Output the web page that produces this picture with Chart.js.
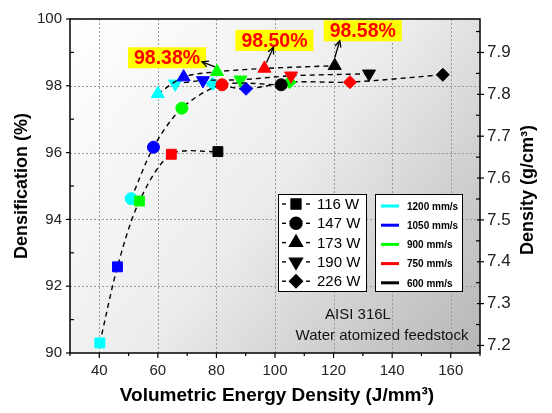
<!DOCTYPE html>
<html>
<head>
<meta charset="utf-8">
<script src="https://cdn.jsdelivr.net/npm/chart.js@4.4.1/dist/chart.umd.min.js"></script>
<style>
  body { margin: 0; background: #fff; }
  #wrap { width: 552px; height: 413px; }
</style>
</head>
<body>
<div id="wrap"><canvas id="densChart" width="552" height="413"></canvas></div>
<script>
// scan speeds (colour) and laser powers (marker shape)
var speeds = ['1200 mm/s', '1050 mm/s', '900 mm/s', '750 mm/s', '600 mm/s'];
var speedColors = ['#00ffff', '#0000ff', '#00ff00', '#ff0000', '#000000'];
var powers = ['116 W', '147 W', '173 W', '190 W', '226 W'];
var shapes = ['rect', 'circle', 'triangle', 'triangle', 'rectRot'];
var rotations = [0, 0, 0, 180, 0];

// energy density (J/mm3) per power, ordered by speed 1200 -> 600 mm/s
var ved116 = [40.2, 46.2, 53.7, 64.6, 80.5];
var ved147 = [50.9, 58.5, 68.2, 81.9, 102.1];
var ved173 = [60.0, 68.8, 80.2, 96.4, 120.4];
var ved190 = [65.9, 75.4, 88.2, 105.5, 132.1];
var ved226 = [78.7, 90.1, 105.0, 125.6, 157.3];

// densification (%)
var dens116 = [90.3, 92.58, 94.55, 95.95, 96.03];
var dens147 = [94.62, 96.16, 97.33, 98.03, 98.03];
var dens173 = [97.76, 98.26, 98.42, 98.52, 98.6];
var dens190 = [98.06, 98.16, 98.18, 98.3, 98.36];
var dens226 = [98.06, 97.91, 98.11, 98.11, 98.33];

var xTicks = [40, 60, 80, 100, 120, 140, 160];
var yTicks = [90, 92, 94, 96, 98, 100];
var y2Ticks = [7.2, 7.3, 7.4, 7.5, 7.6, 7.7, 7.8, 7.9];

// highlighted maxima: dataset index, point index, label
var notes = [
  { ds: 2, i: 2, text: '98.38%' },
  { ds: 2, i: 3, text: '98.50%' },
  { ds: 2, i: 4, text: '98.58%' }
];
// label box / arrow offsets from the point (px)
var noteStyle = [
  { dx: -50, dy: -14, tail: [-2, -5], head: [-15, -10] },
  { dx: 10, dy: -28, tail: [2, -6], head: [9, -21] },
  { dx: 28, dy: -35, tail: [0, -8], head: [5, -25] }
];

var vedAll = [ved116, ved147, ved173, ved190, ved226];
var densAll = [dens116, dens147, dens173, dens190, dens226];
var radii = [7, 6, 7.5, 7.5, 6.5];

var datasets = powers.map(function (p, k) {
  return {
    label: p,
    data: vedAll[k].map(function (v, j) { return { x: v, y: densAll[k][j] }; }),
    showLine: true,
    borderColor: '#000',
    borderWidth: 1.4,
    borderDash: [5, 4],
    tension: 0.3,
    pointStyle: shapes[k],
    pointRotation: rotations[k],
    pointRadius: radii[k],
    pointHoverRadius: radii[k],
    pointBackgroundColor: speedColors,
    pointBorderColor: speedColors,
    pointBorderWidth: 1
  };
});

var FONT = 'Arial, "Liberation Sans", sans-serif';

function line(ctx, x1, y1, x2, y2) {
  ctx.beginPath(); ctx.moveTo(x1, y1); ctx.lineTo(x2, y2); ctx.stroke();
}

var decor = {
  id: 'decor',
  beforeDraw: function (chart) {
    var ctx = chart.ctx, a = chart.chartArea, x = chart.scales.x, y = chart.scales.y;
    ctx.save();
    var g = ctx.createLinearGradient(a.left, a.top, a.right, a.bottom);
    g.addColorStop(0, '#ffffff');
    g.addColorStop(0.5, '#ececec');
    g.addColorStop(1, '#b6b6b6');
    ctx.fillStyle = g;
    ctx.fillRect(a.left, a.top, a.right - a.left, a.bottom - a.top);
    ctx.strokeStyle = '#999';
    ctx.lineWidth = 1;
    ctx.setLineDash([2, 2]);
    xTicks.forEach(function (v) {
      var px = Math.round(x.getPixelForValue(v)) + 0.5;
      line(ctx, px, a.top, px, a.bottom);
    });
    yTicks.slice(1, -1).forEach(function (v) {
      var py = Math.round(y.getPixelForValue(v)) + 0.5;
      line(ctx, a.left, py, a.right, py);
    });
    ctx.restore();
  },
  afterDraw: function (chart) {
    var ctx = chart.ctx, a = chart.chartArea;
    var x = chart.scales.x, y = chart.scales.y, y2 = chart.scales.y2;
    ctx.save();
    // frame
    ctx.strokeStyle = '#000';
    ctx.lineWidth = 1.5;
    ctx.strokeRect(a.left, a.top, a.right - a.left, a.bottom - a.top);
    // tick marks
    ctx.lineWidth = 1.2;
    var v, p;
    for (v = x.min; v <= x.max; v += 10) {
      p = x.getPixelForValue(v);
      line(ctx, p, a.bottom, p, a.bottom + (v % 20 === 0 ? 5 : 3));
    }
    for (v = y.min; v <= y.max; v += 1) {
      p = y.getPixelForValue(v);
      if (v % 2 === 0) line(ctx, a.left - 4, p, a.left, p);
      else line(ctx, a.left, p, a.left + 4, p);
    }
    for (v = 7.2; v < y2.max; v += 0.05) {
      p = y2.getPixelForValue(v);
      var major = Math.abs(v * 10 - Math.round(v * 10)) < 0.01;
      if (major) line(ctx, a.right - 3, p, a.right + 4, p);
      else line(ctx, a.right - 4, p, a.right, p);
    }

    // annotations
    notes.forEach(function (n, k) {
      var s = noteStyle[k];
      var pt = chart.getDatasetMeta(n.ds).data[n.i];
      var cx = pt.x + s.dx, cy = pt.y + s.dy;
      ctx.font = 'bold 19.5px ' + FONT;
      var w = ctx.measureText(n.text).width + 12, h = 21;
      ctx.fillStyle = '#ffff00';
      ctx.fillRect(cx - w / 2, cy - h / 2, w, h);
      ctx.fillStyle = '#ff0000';
      ctx.textAlign = 'center';
      ctx.textBaseline = 'middle';
      ctx.fillText(n.text, cx, cy + 1);
      var tx = pt.x + s.tail[0], ty = pt.y + s.tail[1];
      var hx = pt.x + s.head[0], hy = pt.y + s.head[1];
      ctx.strokeStyle = '#000';
      ctx.lineWidth = 1.3;
      line(ctx, tx, ty, hx, hy);
      var ang = Math.atan2(hy - ty, hx - tx);
      ctx.beginPath();
      ctx.moveTo(hx - 7 * Math.cos(ang - 0.45), hy - 7 * Math.sin(ang - 0.45));
      ctx.lineTo(hx, hy);
      ctx.lineTo(hx - 7 * Math.cos(ang + 0.45), hy - 7 * Math.sin(ang + 0.45));
      ctx.stroke();
    });

    // legend: power (shape)
    ctx.fillStyle = '#fff';
    ctx.strokeStyle = '#000';
    ctx.lineWidth = 1;
    ctx.fillRect(278, 194, 88, 97);
    ctx.strokeRect(278.5, 194.5, 88, 97);
    ctx.font = '15px ' + FONT;
    ctx.textAlign = 'left';
    ctx.textBaseline = 'middle';
    powers.forEach(function (p, k) {
      var ry = 204 + k * 19.3;
      ctx.strokeStyle = '#000';
      ctx.lineWidth = 1.4;
      line(ctx, 282, ry, 286, ry);
      line(ctx, 306, ry, 310, ry);
      ctx.fillStyle = '#000';
      Chart.helpers.drawPoint(ctx, {
        pointStyle: shapes[k], radius: radii[k], rotation: rotations[k], borderWidth: 1
      }, 296, ry);
      ctx.fillStyle = '#000';
      ctx.fillText(p, 317, ry + 1);
    });

    // legend: scan speed (colour)
    ctx.fillStyle = '#fff';
    ctx.fillRect(375, 194, 87, 97);
    ctx.strokeStyle = '#000';
    ctx.lineWidth = 1;
    ctx.strokeRect(375.5, 194.5, 87, 97);
    ctx.font = 'bold 10px ' + FONT;
    speeds.forEach(function (s, k) {
      var ry = 206 + k * 19.2;
      ctx.strokeStyle = speedColors[k];
      ctx.lineWidth = 3;
      line(ctx, 381, ry, 399, ry);
      ctx.fillStyle = '#000';
      ctx.fillText(s, 407, ry + 1);
    });

    // sample text
    ctx.fillStyle = '#111';
    ctx.font = '15px ' + FONT;
    ctx.textAlign = 'center';
    ctx.fillText('AISI 316L', 358, 315);
    ctx.fillText('Water atomized feedstock', 382, 336);

    // axis titles
    ctx.fillStyle = '#000';
    ctx.font = 'bold 19px ' + FONT;
    ctx.fillText('Volumetric Energy Density (J/mm\u00b3)', (a.left + a.right) / 2 + 2, 396);
    var cy = (a.top + a.bottom) / 2;
    ctx.save();
    ctx.translate(22, cy);
    ctx.rotate(-Math.PI / 2);
    ctx.font = 'bold 18px ' + FONT;
    ctx.fillText('Densification (%)', 0, 0);
    ctx.restore();
    ctx.save();
    ctx.translate(528, cy + 4);
    ctx.rotate(-Math.PI / 2);
    ctx.font = 'bold 18px ' + FONT;
    ctx.fillText('Density (g/cm\u00b3)', 0, 0);
    ctx.restore();
    ctx.restore();
  }
};

function setTicks(list) {
  return function (scale) {
    scale.ticks = list.map(function (v) { return { value: v }; });
  };
}

new Chart(document.getElementById('densChart'), {
  type: 'scatter',
  data: { datasets: datasets },
  options: {
    responsive: false,
    animation: false,
    layout: { padding: { top: 19, left: 0, right: 0, bottom: 0 } },
    plugins: { legend: { display: false }, tooltip: { enabled: false } },
    scales: {
      x: {
        type: 'linear', min: 30, max: 170,
        grid: { display: false, drawTicks: false },
        border: { display: false },
        afterBuildTicks: setTicks(xTicks),
        afterFit: function (s) { s.height = 60; },
        ticks: { padding: 9, color: '#222', font: { size: 15, family: FONT } }
      },
      y: {
        position: 'left', min: 90, max: 100,
        grid: { display: false, drawTicks: false },
        border: { display: false },
        afterBuildTicks: setTicks(yTicks),
        afterFit: function (s) { s.width = 70; },
        ticks: { padding: 8, color: '#222', font: { size: 15, family: FONT } }
      },
      y2: {
        position: 'right', min: 7.182, max: 7.98,
        grid: { display: false, drawTicks: false },
        border: { display: false },
        afterBuildTicks: setTicks(y2Ticks),
        afterFit: function (s) { s.width = 72; },
        ticks: {
          padding: 7, color: '#222', font: { size: 17, family: FONT },
          callback: function (v) { return v.toFixed(1); }
        }
      }
    }
  },
  plugins: [decor]
});
</script>
</body>
</html>
